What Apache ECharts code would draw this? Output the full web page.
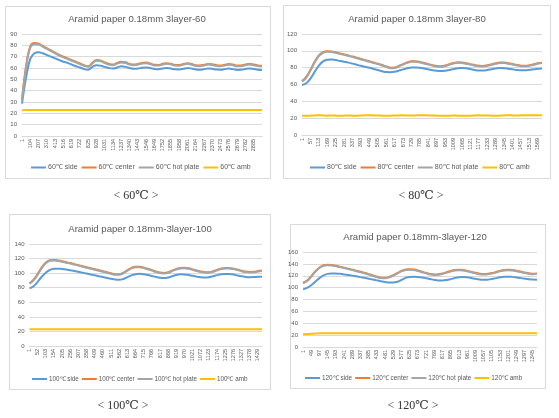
<!DOCTYPE html>
<html><head><meta charset="utf-8">
<script src="https://cdn.jsdelivr.net/npm/echarts@6/dist/echarts.min.js"></script>
<style>html,body{margin:0;padding:0;background:#fff}#c{width:559px;height:418px}</style>
</head><body><div id="c"></div>
<script>
// ---------- 60 ℃ ----------
const cats60 = [1,52,104,155,207,258,310,361,413,464,516,567,619,670,722,773,825,876,928,979,1031,1082,1134,1185,1237,1288,1340,1391,1443,1494,1546,1597,1649,1700,1752,1803,1855,1906,1958,2009,2061,2112,2164,2215,2267,2318,2370,2421,2473,2524,2576,2627,2679,2730,2782,2833,2885,2936,2988];
const ticks60 = [1,104,207,310,413,516,619,722,825,928,1031,1134,1237,1340,1443,1546,1649,1752,1855,1958,2061,2164,2267,2370,2473,2576,2679,2782,2885];
const side60 = [28.5,52,68,73,74,73,71.5,70,68.5,67,65.5,64.5,63,61.5,60.5,59,58.5,61,62.5,62,61,60,59.5,60.5,61.5,61,60,59.3,59.5,60.3,60.5,60,59.2,59,59.5,60,59.5,58.8,58.7,59.3,60,59.5,58.7,58.5,59,59.5,59.3,58.6,58.5,59,59.5,59,58.3,58.4,59.2,59.6,59.2,58.5,58.2];
const center60 = [32,62,79,82,81.5,79.5,77.5,75.5,73.5,71.5,70,68.5,67,65.5,64,62.5,61.5,64.5,67,66.5,65,63.5,63,64.5,65.5,65,63.5,63,63.5,64.5,64.8,64,62.8,62.7,63.7,64.3,63.8,62.7,62.6,63.6,64.3,63.5,62.4,62.2,62.9,63.6,63.3,62.4,62.2,62.9,63.5,63,62.1,62.2,63.1,63.6,63.1,62.3,62];
const hot60 = [31.5,60.5,78,81,80.8,78.9,76.9,74.9,72.9,71,69.4,67.9,66.4,64.9,63.4,62,61,63.8,66.3,65.9,64.4,63,62.5,63.9,64.9,64.4,63,62.4,62.9,63.9,64.2,63.4,62.3,62.1,63.1,63.7,63.2,62.1,62,63,63.7,62.9,61.9,61.6,62.3,63,62.7,61.8,61.6,62.3,62.9,62.4,61.5,61.6,62.5,63,62.5,61.7,61.4];
const amb60 = [22.8,22.9,23,23,23,23,22.9,23,23,23,23,22.9,23,23,23,23,23,23,22.9,23,23,23,23,23,22.9,23,23,23,23,23,23,22.9,23,23,23,23,23,23,22.9,23,23,23,23,23,23,22.9,23,23,23,23,23,23,22.9,23,23,23,23,23,23];

// ---------- 80 ℃ ----------
const cats80 = [1,29,57,85,113,141,169,197,225,253,281,309,337,365,393,421,449,477,505,533,561,589,617,645,673,701,729,757,785,813,841,869,897,925,953,981,1009,1037,1065,1093,1121,1149,1177,1205,1233,1261,1289,1317,1345,1373,1401,1429,1457,1485,1513,1541,1569,1597];
const ticks80 = [1,57,113,169,225,281,337,393,449,505,561,617,673,729,785,841,897,953,1009,1065,1121,1177,1233,1289,1345,1401,1457,1513,1569];
const side80 = [59.5,61.5,67,75,82.5,87.5,89.5,89.7,89,88,87,86,84.8,83.5,82.2,81,79.8,78.5,77.2,75.8,74.8,74.6,75.2,76.5,78,79.3,80.2,80.3,79.8,79,78,77,76.3,76,76.4,77.3,78.3,79.2,79.5,79.2,78.3,77.3,76.6,76.6,77.2,78.2,79,79.5,79.4,78.8,78,77.2,76.8,76.9,77.4,78,78.6,79];
const center80 = [64,69,77.5,87,94.5,98.5,99.6,99.2,98.2,97,95.8,94.5,93.2,91.8,90.4,89,87.6,86.2,84.8,83.2,81.5,80,80.2,82,84.3,86.3,87.5,87.5,86.8,85.6,84.2,83,82,81.7,82.5,84,85.5,86.3,86.2,85.3,84.2,83,82.2,82.1,82.8,84,85.2,86,86,85.3,84.3,83.2,82.4,82.2,82.8,84,85.2,86];
const hot80 = [63.5,68,76.5,86,93.6,97.7,98.9,98.6,97.6,96.4,95.2,93.9,92.6,91.2,89.8,88.4,87,85.6,84.2,82.6,80.9,79.4,79.6,81.4,83.7,85.7,86.9,86.9,86.2,85,83.6,82.4,81.4,81.1,81.9,83.4,84.9,85.7,85.6,84.7,83.6,82.4,81.6,81.5,82.2,83.4,84.6,85.4,85.4,84.7,83.7,82.6,81.8,81.6,82.2,83.4,84.6,85.4];
const amb80 = [22.8,22.9,23,23.2,23.6,23.2,23,23.1,23,22.9,23,23.1,23,23,23.2,23.4,23.5,23.2,23.1,23,22.9,23,23.1,23.3,23.4,23.2,23.1,23.3,23.5,23.6,23.3,23.1,23,22.9,23,23,23.1,23,23,22.9,23,23.2,23.4,23.2,23.1,23,22.9,23.1,23.3,23.5,23.3,23.2,23.4,23.6,23.5,23.4,23.6,23.4];

// ---------- 100 ℃ ----------
const cats100 = [1,26,52,77,103,128,154,179,205,230,256,281,307,332,358,383,409,434,460,485,511,536,562,587,613,638,664,689,715,740,766,791,817,842,868,893,919,944,970,995,1021,1046,1072,1097,1123,1148,1174,1199,1225,1250,1276,1301,1327,1352,1378,1403,1429,1454];
const ticks100 = [1,52,103,154,205,256,307,358,409,460,511,562,613,664,715,766,817,868,919,970,1021,1072,1123,1174,1225,1276,1327,1378,1429];
const side100 = [79,82,88,95,100.5,104.5,106,106.2,105.7,105,104,103,101.8,100.6,99.4,98.2,97,95.8,94.6,93.3,92.2,91.2,90.8,92,94.5,97,98.6,99,98.5,97.5,96.2,94.8,93.6,93.2,94,95.8,97.5,98.4,98.3,97.5,96.3,95.2,94.4,94.1,94.5,95.8,97.3,98.5,98.9,98.7,98,96.8,95.6,94.8,94.5,94.6,95,95.2];
const center100 = [86,91,99,108,114.5,117.7,118,117.3,116.3,115,113.8,112.4,111,109.6,108.2,106.8,105.4,104,102.6,101.2,99.8,98.6,98.5,100.5,104,107.3,108.8,108.7,107.6,106,104.2,102.3,100.8,100.3,101.2,103.5,105.8,107.2,107.4,106.6,105.2,103.6,102.2,101.3,101.3,102.5,104.5,106.3,107.2,107.1,106.2,104.8,103.3,102.1,101.6,101.8,102.8,103.6];
const hot100 = [85.5,90,98,107,113.6,116.9,117.3,116.6,115.6,114.3,113.1,111.7,110.3,108.9,107.5,106.1,104.7,103.3,101.9,100.5,99.1,97.9,97.8,99.8,103.3,106.6,108.1,108,106.9,105.3,103.5,101.6,100.1,99.6,100.5,102.8,105.1,106.5,106.7,105.9,104.5,102.9,101.5,100.6,100.6,101.8,103.8,105.6,106.5,106.4,105.5,104.1,102.6,101.4,100.9,101.1,102.1,102.9];
const amb100 = [23,23,23,23,23,23,23,23,23,23,23,23,23,23,23,23,23,23,23,23,23,23,23,23,23,23,23,23,23,23,23,23,23,23,23,23,23,23,23,23,23,23,23,23,23,23,23,23,23,23,23,23,23,23,23,23,23,23];

// ---------- 120 ℃ ----------
const cats120 = [1,25,49,73,97,121,145,169,193,217,241,265,289,313,337,361,385,409,433,457,481,505,529,553,577,601,625,649,673,697,721,745,769,793,817,841,865,889,913,937,961,985,1009,1033,1057,1081,1105,1129,1153,1177,1201,1225,1249,1273,1297,1321,1345,1369];
const ticks120 = [1,49,97,145,193,241,289,337,385,433,481,529,577,625,673,721,769,817,865,913,961,1009,1057,1105,1153,1201,1249,1297,1345];
const side120 = [97,99.5,104,110,116,120.5,123.2,124,123.8,123.2,122.3,121.3,120.2,119,117.7,116.4,115,113.6,112.2,110.8,109.5,108.6,108.5,109.8,113,116.5,118,118.3,117.8,117,115.8,114.4,113,112.2,112.1,112.8,114.3,116.2,117.6,118,117.4,116.2,114.8,113.6,113.1,113.4,114.5,116,117.4,118.3,118.5,118.1,117.2,116.1,115.1,114.2,113.6,113.2];
const center120 = [108,112,119,127.5,134,137.8,138.6,138,136.8,135.3,133.7,132,130.3,128.5,126.7,124.8,122.8,120.6,118.5,116.8,116.5,118,121,124.7,128.2,130.5,131,130.4,128.8,126.8,124.8,123,122.2,122.6,124,126,128,129.5,130,129.5,128.2,126.5,124.8,123.5,123,123.3,124.5,126.3,128.2,129.5,130,129.6,128.5,127,125.5,124.2,123.3,124];
const hot120 = [107.4,111.2,118.2,126.6,133.1,136.9,137.8,137.2,136,134.5,132.9,131.2,129.5,127.7,125.9,124,122,119.8,117.7,116,115.7,117.2,120.2,123.9,127.4,129.7,130.2,129.6,128,126,124,122.2,121.4,121.8,123.2,125.2,127.2,128.7,129.2,128.7,127.4,125.7,124,122.7,122.2,122.5,123.7,125.5,127.4,128.7,129.2,128.8,127.7,126.2,124.7,123.4,122.5,123.2];
const amb120 = [21.5,21.8,22.3,22.7,23,23,23,23,23,23,23,23,23,23,23,23,23,23,23,23,23,23,23,23,23,23,23,23,23,23,23,23,23,23,23,23,23,23,23,23,23,23,23,23,23,23,23,23,23,23,23,23,23,23,23,23,23,23];

const titles = ['Aramid paper 0.18mm 3layer-60','Aramid paper 0.18mm 3layer-80','Aramid paper 0.18mm-3layer-100','Aramid paper 0.18mm-3layer-120'];
const captions = ['< 60\u2103 >','< 80\u2103 >','< 100\u2103 >','< 120\u2103 >'];
const seriesSuffix = [' side',' center',' hot plate',' amb'];
const temps = ['60','80','100','120'];
const yMaxes = [90,120,140,160];
const yIntervals = [10,20,20,20];

const COLORS = ['#5B9BD5','#ED7D31','#A5A5A5','#FFC000'];
const FONT = 'Liberation Sans, Arial, sans-serif';
const TXT = '#595959';

const panels = [
  {cats:cats60, ticks:ticks60, data:[side60,center60,hot60,amb60],
   grid:{left:22,top:34,width:240,height:102}, box:[5,6,265,172], titleX:137, titleY:19, legend:{left:31,top:164,fs:7,gap:4}, capX:136, capY:196},
  {cats:cats80, ticks:ticks80, data:[side80,center80,hot80,amb80],
   grid:{left:302,top:34,width:240,height:101}, box:[283,5,267,173], titleX:417, titleY:19, legend:{left:310,top:164,fs:7,gap:4}, capX:421, capY:196},
  {cats:cats100, ticks:ticks100, data:[side100,center100,hot100,amb100],
   grid:{left:29.5,top:244,width:232.5,height:102}, box:[9,214,261,175], titleX:140, titleY:229, legend:{left:32,top:376,fs:6.3,gap:3}, capX:123, capY:406},
  {cats:cats120, ticks:ticks120, data:[side120,center120,hot120,amb120],
   grid:{left:303,top:252,width:234,height:95}, box:[290,224,255,164], titleX:415, titleY:237, legend:{left:305,top:375,fs:6.4,gap:3}, capX:413, capY:406}
];

const grids=[], xAxes=[], yAxes=[], series=[], legends=[], graphics=[];
panels.forEach((p,i)=>{
  graphics.push({type:'rect', z:-10, shape:{x:p.box[0]+0.5,y:p.box[1]+0.5,width:p.box[2],height:p.box[3]}, style:{fill:'#fff',stroke:'#d9d9d9',lineWidth:1}});
  graphics.push({type:'text', z:10, x:p.titleX, y:p.titleY, style:{text:titles[i], fill:TXT, font:'9.6px '+FONT, align:'center', verticalAlign:'middle', textAlign:'center', textVerticalAlign:'middle'}});
  graphics.push({type:'text', z:10, x:p.capX, y:p.capY, style:{text:captions[i], fill:'#333', font:'12px "Liberation Serif", "DejaVu Serif", serif', align:'center', verticalAlign:'middle', textAlign:'center', textVerticalAlign:'middle'}});
  grids.push(Object.assign({containLabel:false}, p.grid));
  const tickSet = p.ticks.map(String);
  xAxes.push({type:'category', gridIndex:i, boundaryGap:false, data:p.cats.map(String),
    axisLine:{lineStyle:{color:'#d9d9d9'}}, axisTick:{show:false},
    axisLabel:{rotate:90, fontSize:5.5, color:TXT, fontFamily:FONT, margin:3,
      interval:(idx,val)=>tickSet.includes(String(val))}});
  yAxes.push({type:'value', gridIndex:i, min:0, max:yMaxes[i], interval:yIntervals[i],
    axisLine:{show:false}, axisTick:{show:false},
    axisLabel:{fontSize:6, color:TXT, fontFamily:FONT, margin:5},
    splitLine:{lineStyle:{color:'#d9d9d9', width:1}}});
  const names = seriesSuffix.map(s=>temps[i]+'\u2103'+s);
  names.forEach((n,k)=>{
    series.push({type:'line', name:n, xAxisIndex:i, yAxisIndex:i, data:p.data[k],
      smooth:0.4, showSymbol:false, symbol:'none', lineStyle:{color:COLORS[k], width:2}, itemStyle:{color:COLORS[k]},
      z:2+k, animation:false});
  });
  legends.push({data:names, left:p.legend.left, top:p.legend.top, padding:0, itemGap:p.legend.gap, itemWidth:15, itemHeight:2,
    icon:'rect', textStyle:{fontSize:p.legend.fs, color:TXT, fontFamily:FONT, padding:[0,0,0,-3]}});
});

const chart = echarts.init(document.getElementById('c'));
chart.setOption({
  animation:false, backgroundColor:'#fff', color:COLORS,
  grid:grids, xAxis:xAxes, yAxis:yAxes, series:series, legend:legends, graphic:graphics
});
</script></body></html>
